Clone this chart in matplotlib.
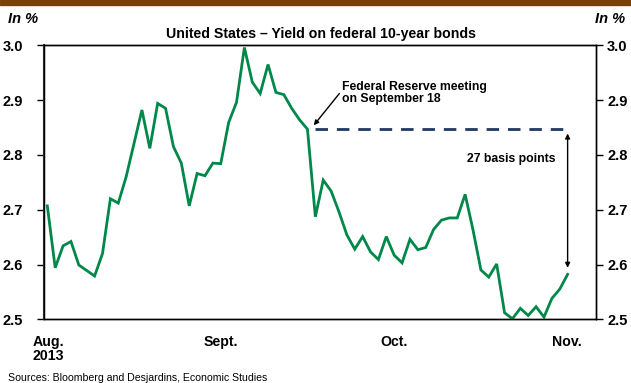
import matplotlib
matplotlib.use("Agg")
import matplotlib.pyplot as plt
from matplotlib.patches import Rectangle

plt.rcParams['font.family'] = ['Liberation Sans', 'DejaVu Sans']

# Daily yield, Aug 1 2013 - Nov 1 2013 (%)
yields = [2.707, 2.594, 2.634, 2.642, 2.599, 2.589, 2.579, 2.620, 2.720, 2.712,
          2.760, 2.821, 2.882, 2.812, 2.894, 2.885, 2.815, 2.785, 2.707, 2.766,
          2.762, 2.785, 2.784, 2.859, 2.896, 2.996, 2.933, 2.912, 2.965, 2.914,
          2.910, 2.885, 2.864, 2.847, 2.687, 2.754, 2.734, 2.696, 2.654, 2.628,
          2.651, 2.623, 2.609, 2.651, 2.617, 2.603, 2.646, 2.627, 2.631, 2.664,
          2.681, 2.685, 2.685, 2.728, 2.663, 2.590, 2.577, 2.601, 2.512, 2.501,
          2.520, 2.507, 2.523, 2.504, 2.538, 2.555, 2.582]
days = list(range(len(yields)))
fed_index = 33
month_pos = [0.1, 22.0, 44.0, 65.9]
month_labels = ["Aug.\n2013", "Sept.", "Oct.", "Nov."]
yticks = [2.5, 2.6, 2.7, 2.8, 2.9, 3.0]
ytick_labels = [f"{v:.1f}" for v in yticks]

fig = plt.figure(figsize=(6.31, 3.83), dpi=100)
fig.patches.append(Rectangle((0, 1 - 5/383), 1, 5/383, transform=fig.transFigure,
                             color='#7A3F0A', zorder=0))
ax = fig.add_axes([44/631, 1 - 319.3/383, (596 - 44)/631, (319.3 - 45.3)/383])

ax.plot(days, yields, color='#00884A', lw=2.0, solid_joinstyle='miter', zorder=3)

fed_val = yields[fed_index]
last = len(yields) - 1
ax.plot([fed_index + 1, last], [fed_val, fed_val], color='#1F3864', lw=2.0,
        dashes=(4.5, 3.2), zorder=2)
ax.annotate('', xy=(last, yields[last] + 0.012), xytext=(last, fed_val - 0.008),
            arrowprops=dict(arrowstyle='<|-|>', color='black', lw=1.0,
                            mutation_scale=7, shrinkA=0, shrinkB=0))
ax.text(last - 1.5, 2.792, '27 basis points', ha='right', va='center',
        fontsize=8.8, fontweight='bold')
ax.annotate('Federal Reserve meeting\non September 18',
            xy=(fed_index + 0.8, fed_val + 0.007), xytext=(fed_index + 4.4, 2.935),
            ha='left', va='top', fontsize=8.8, fontweight='bold', linespacing=1.0,
            arrowprops=dict(arrowstyle='-|>', color='black', lw=1.0,
                            mutation_scale=7, shrinkA=0, shrinkB=0,
                            relpos=(0, 0.62)))

ax.set_xlim(-0.42, 69.6)
ax.set_ylim(2.5, 3.0)
ax.set_yticks(yticks)
ax.set_yticklabels(ytick_labels, fontweight='bold')
ax.set_xticks(month_pos)
ax.set_xticklabels(month_labels, fontweight='bold', fontsize=10.2, linespacing=1.05,
                   va='top')
ax.tick_params(axis='x', length=0, pad=11)
ax.tick_params(axis='y', direction='out', length=5, width=1.0,
               labelsize=10.5, pad=10)

ax2 = ax.twinx()
ax2.set_ylim(2.5, 3.0)
ax2.set_yticks(yticks)
ax2.set_yticklabels(ytick_labels, fontweight='bold')
ax2.tick_params(axis='y', direction='out', length=5, width=1.0,
                labelsize=10.5, pad=3)

for a in (ax, ax2):
    for s in a.spines.values():
        s.set_linewidth(1.0)
        s.set_color('black')
ax.spines['left'].set_color('#333333')
ax.spines['left'].set_linewidth(1.5)

fig.text(321/631, 1 - 34/383, 'United States \u2013 Yield on federal 10-year bonds',
         ha='center', va='center', fontsize=10.2, fontweight='bold')
fig.text(8/631, 1 - 19/383, 'In %', ha='left', va='center', fontsize=10.5,
         fontweight='bold', style='italic')
fig.text(625/631, 1 - 19/383, 'In %', ha='right', va='center', fontsize=10.5,
         fontweight='bold', style='italic')
fig.text(8/631, 1 - 378/383, 'Sources: Bloomberg and Desjardins, Economic Studies',
         ha='left', va='center', fontsize=7.6)

fig.savefig('out.png', dpi=100)
